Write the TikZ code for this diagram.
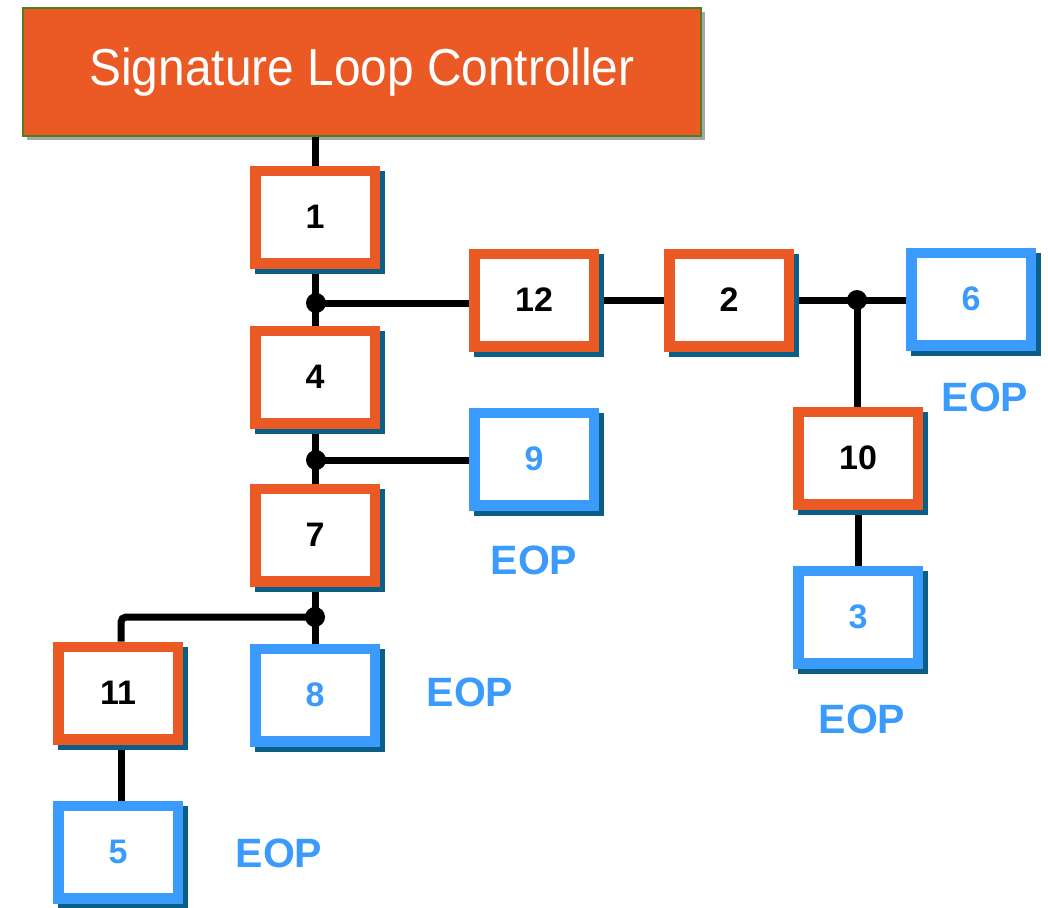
\documentclass[tikz,border=0pt]{standalone}
\usepackage{fontspec}
\setmainfont{Liberation Sans}
\usetikzlibrary{backgrounds,shadows}
\definecolor{orng}{HTML}{EB5A25}
\definecolor{blu}{HTML}{3A9BFD}
\definecolor{shad}{HTML}{0B5E85}
\definecolor{grn}{HTML}{4F7F1F}
\tikzset{
  box/.style={rectangle, draw, line width=10.5pt, fill=white, inner sep=0pt,
    minimum width=119.5pt, minimum height=92.5pt,
    font=\fontsize{34}{40}\selectfont\bfseries,
    preaction={draw=shad, fill=shad, transform canvas={shift={(5pt,-5pt)}}}},
  obox/.style={box, draw=orng, text=black},
  bbox/.style={box, draw=blu, text=blu},
  eop/.style={text=blu, font=\fontsize{41}{48}\selectfont\bfseries, inner sep=0pt},
  conn/.style={line width=7pt, black},
  dot/.style={circle, fill=black, minimum size=20pt, inner sep=0pt}
}
\begin{document}
\begin{tikzpicture}[x=1pt,y=-1pt]
\useasboundingbox (0,0) rectangle (1048,907);
\node[rectangle, fill=orng, draw=grn, line width=2pt, minimum width=678pt, minimum height=128pt,
  text=white, font=\fontsize{52}{60}\selectfont,
  drop shadow={shadow xshift=4pt, shadow yshift=-4pt, fill=black, opacity=0.35}]
  (ctrl) at (362,72) {\scalebox{0.92}[1]{Signature Loop Controller}};
\node[obox] (b1) at (315,217) {1};
\node[obox] (b4) at (315,377) {4};
\node[obox] (b7) at (315,535) {7};
\node[obox] (b12) at (534,300) {12};
\node[obox] (b2) at (729,300) {2};
\node[bbox] (b6) at (971,299) {6};
\node[bbox] (b9) at (534,459) {9};
\node[obox] (b10) at (858,458) {10};
\node[bbox] (b3) at (858,617) {3};
\node[obox] (b11) at (118,693) {11};
\node[bbox] (b8) at (315,695) {8};
\node[bbox] (b5) at (118,852) {5};
\node[eop] (e9) at (534,560) {EOP};
\node[eop] (e8) at (470,692) {EOP};
\node[eop] (e5) at (279,853) {EOP};
\node[eop] (e6) at (985,397) {EOP};
\node[eop] (e3) at (862,719) {EOP};
\coordinate (d1) at (316,303);
\coordinate (d2) at (316,460);
\coordinate (d3) at (315,617);
\coordinate (d4) at (857,300);
\begin{scope}[on background layer]
\draw[conn] (b1.north |- ctrl.south) -- (b1.north);
\draw[conn] (b1.south) -- (b4.north);
\draw[conn] (d1) -- (d1 -| b12.west);
\draw[conn] (b4.south) -- (b7.north);
\draw[conn] (d2) -- (d2 -| b9.west);
\draw[conn] (b7.south) -- (b8.north);
\draw[conn, rounded corners=5pt] (d3) -| ([xshift=3pt]b11.north);
\draw[conn] ([xshift=3pt]b11.south) -- ([xshift=3pt]b5.north);
\draw[conn] (b12.east) -- (b2.west);
\draw[conn] (b2.east |- d4) -- (d4 -| b6.west);
\draw[conn] (d4) -- (d4 |- b10.north);
\draw[conn] (b10.south) -- (b3.north);
\end{scope}
\node[dot] (p1) at (d1) {};
\node[dot] (p2) at (d2) {};
\node[dot] (p3) at (d3) {};
\node[dot] (p4) at (d4) {};
\end{tikzpicture}
\end{document}
